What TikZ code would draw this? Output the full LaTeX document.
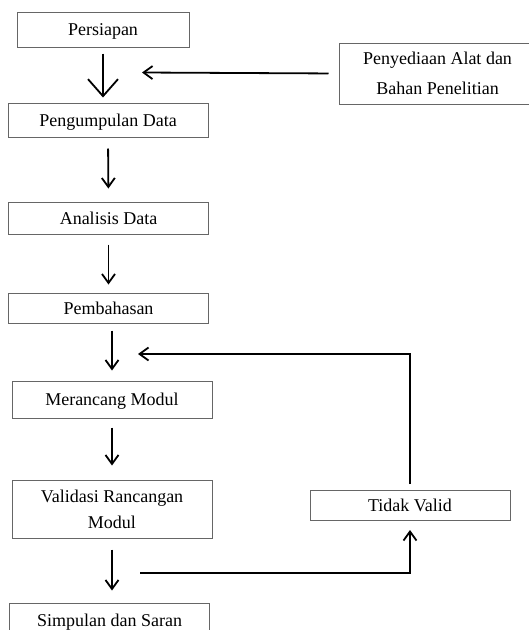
\documentclass[tikz,border=0pt]{standalone}
\usepackage{fontspec}
\setmainfont{Liberation Serif}
\usepackage{tikz}
\usetikzlibrary{arrows.meta}
\usetikzlibrary{positioning}

\tikzset{
  kotak/.style={draw=black!60, line width=1pt, minimum width=200pt, minimum height=34pt,
    align=center, inner sep=0pt, text depth=0pt, font=\fontsize{18}{30}\selectfont},
  panah/.style={line width=1.8pt, -{Straight Barb[length=9pt,width=13pt]}},
}

\begin{document}
\begin{tikzpicture}[x=1pt,y=-1pt]
    \useasboundingbox (0,0) rectangle (529,630);

    \node[kotak, minimum width=172pt, minimum height=35pt] (persiapan) at (103,29.5) {Persiapan};
    \node[kotak, minimum width=197pt, minimum height=61pt, text depth=-2.7pt] (penyediaan) at (437.5,73.5) {Penyediaan Alat dan\\Bahan Penelitian};
    \node[kotak] (pengumpulan) at (108,120) {Pengumpulan Data};
    \node[kotak, minimum height=32pt] (analisis) at (108.5,218) {Analisis Data};
    \node[kotak, minimum height=30pt] (pembahasan) at (108.5,308) {Pembahasan};
    \node[kotak, minimum height=37pt] (merancang) at (112,399.5) {Merancang Modul};
    \node[kotak, minimum height=58pt, font=\fontsize{18}{26}\selectfont] (validasi) at (112,509) {Validasi Rancangan\\Modul};
    \node[kotak, minimum height=34pt] (simpulan) at (109.5,620) {Simpulan dan Saran};
    \node[kotak, minimum height=30pt, text depth=-3pt] (tidakvalid) at (410,505.5) {Tidak Valid};

    \coordinate (masuk) at (142,72.5);
    \coordinate (ulang) at (138,354);
    \coordinate (cabang) at (140,573);

    \draw[panah, -{Straight Barb[length=17pt,width=30pt]}, shorten <=6pt, shorten >=5pt]
        (persiapan.south) -- (persiapan.south |- pengumpulan.north);
    \draw[panah, shorten <=10pt] (penyediaan.west) -- (masuk);
    \draw[panah, shorten <=11pt, shorten >=13pt] (pengumpulan.south) -- (analisis.north);
    \draw[panah, shorten <=10pt, shorten >=8pt] (analisis.south) -- (pembahasan.north);
    \draw[panah, shorten <=7pt, shorten >=10pt] (pembahasan.south -| merancang.south) -- (merancang.north);
    \draw[panah, shorten <=9pt, shorten >=14pt] (merancang.south) -- (validasi.north);
    \draw[panah, shorten <=11pt, shorten >=12pt] (validasi.south) -- (validasi.south |- simpulan.north);
    \draw[panah, shorten <=6pt] (tidakvalid.north) |- (ulang);
    \draw[panah, shorten >=9pt] (cabang) -| (tidakvalid.south);
\end{tikzpicture}
\end{document}
